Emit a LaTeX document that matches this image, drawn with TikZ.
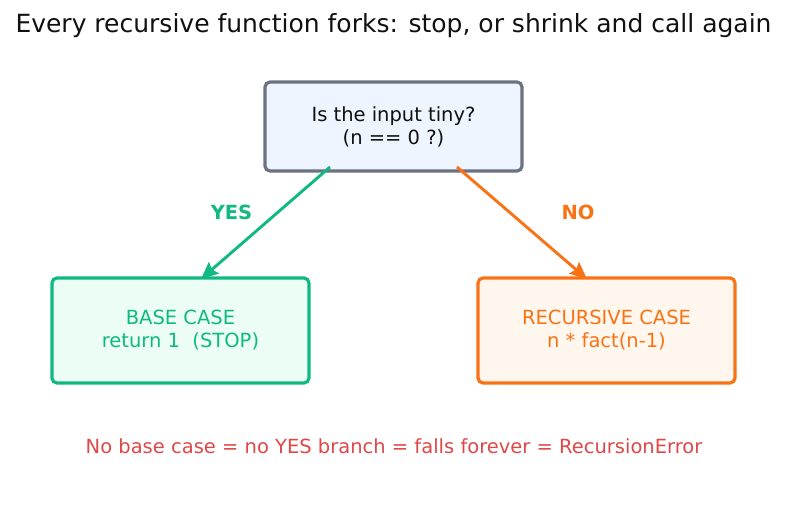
\documentclass[tikz,border=0pt]{standalone}
\usepackage{fontspec}
\setmainfont{DejaVu Sans}
\usetikzlibrary{arrows.meta,positioning}
\usepackage{xcolor}
\definecolor{tink}{HTML}{111111}
\definecolor{qgray}{HTML}{6B7280}
\definecolor{qfill}{HTML}{EEF5FE}
\definecolor{yesgreen}{HTML}{10B981}
\definecolor{yesfill}{HTML}{ECFDF5}
\definecolor{noorange}{HTML}{F97316}
\definecolor{nofill}{HTML}{FFF7ED}
\definecolor{warnred}{HTML}{E04848}
\tikzset{
  box/.style    = {draw, line width=3.2pt, rounded corners=5pt, align=center,
                   minimum width=257pt, font=\fontsize{19.5}{23}\selectfont},
  branch/.style = {-{Stealth[length=17pt,width=15pt,inset=2.5pt]}, line width=2.9pt},
  tag/.style    = {font=\fontsize{19.5}{22}\bfseries},
}

\begin{document}
\begin{tikzpicture}[x=1pt,y=-1pt]
\useasboundingbox[fill=white] (0,0) rectangle (787,511);
\node[tink,font=\fontsize{25}{29}\selectfont] (title) at (393.5,26)
  {Every recursive function forks: stop, or shrink and call again};
% the question and its two outcomes
\node[box,fill=qfill,draw=qgray,text=tink,minimum height=89pt] (ask) at (393.5,126.5)
  {Is the input tiny?\\(n == 0 ?)};
\node[box,fill=yesfill,draw=yesgreen,text=yesgreen,minimum height=105pt] (base) at (180.5,330.5)
  {BASE CASE\\return 1\ \ (STOP)};
\node[box,fill=nofill,draw=noorange,text=noorange,minimum height=105pt] (rec) at (606.5,330.5)
  {RECURSIVE CASE\\n * fact(n-1)};
% arrow ends
\coordinate (yesfrom) at (330,167);
\coordinate (yesto) at (201,279);
\coordinate (nofrom) at (457,167);
\coordinate (noto) at (587,279);
\draw[branch,yesgreen] (yesfrom) -- (yesto);
\draw[branch,noorange] (nofrom) -- (noto);
\node[tag,yesgreen] (yes) at (231.5,212) {YES};
\node[tag,noorange] (no) at (578,212) {NO};
\node[warnred,font=\fontsize{19.5}{22}\selectfont] (note) at (394,446)
  {No base case = no YES branch = falls forever = RecursionError};
\end{tikzpicture}
\end{document}
